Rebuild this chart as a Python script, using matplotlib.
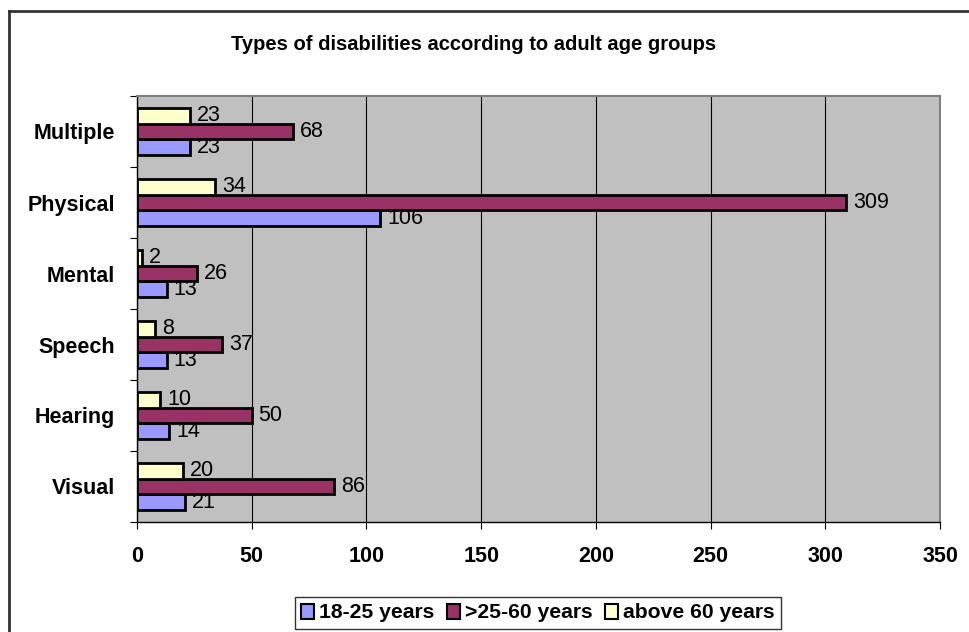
import matplotlib
matplotlib.use('Agg')
import matplotlib.pyplot as plt
from matplotlib.lines import Line2D
import numpy as np

categories = ['Visual', 'Hearing', 'Speech', 'Mental', 'Physical', 'Multiple']
series_names = ['18-25 years', '>25-60 years', 'above 60 years']
age_18_25 = [21, 14, 13, 13, 106, 23]
age_25_60 = [86, 50, 37, 26, 309, 68]
age_60_up = [20, 10, 8, 2, 34, 23]
colors = ['#9999FF', '#993366', '#FFFFCC']

plt.rcParams['font.family'] = ['Liberation Sans', 'DejaVu Sans']

fig = plt.figure(figsize=(9.7, 6.32), dpi=100)
ax = fig.add_axes([137 / 970, 1 - 522 / 632, (940 - 137) / 970, (522 - 96) / 632])
ax.set_facecolor('#C0C0C0')

y = np.arange(len(categories))
h = 0.225
for i, (vals, name) in enumerate(zip([age_18_25, age_25_60, age_60_up], series_names)):
    pos = y + (i - 1) * h
    ax.barh(pos, vals, height=h, color=colors[i], edgecolor='black', linewidth=2,
            label=name, zorder=3)
    for p, v in zip(pos, vals):
        ax.annotate(str(v), (v, p), xytext=(5, 0), textcoords='offset points',
                    va='center', ha='left', fontsize=15.5, zorder=4)

ax.set_xlim(0, 350)
ax.set_ylim(-0.5, len(categories) - 0.5)
ax.set_xticks(np.arange(0, 351, 50))
ax.set_yticks(np.arange(-0.5, len(categories), 1))
ax.set_yticklabels([])
ax.set_yticks(y, minor=True)
ax.set_yticklabels(categories, minor=True, fontsize=15.5, fontweight='bold')
ax.tick_params(axis='y', which='minor', length=0, pad=16)
ax.tick_params(axis='y', which='major', length=5, direction='out')
ax.tick_params(axis='x', length=5, direction='out', pad=12, labelsize=15.5)
for lab in ax.get_xticklabels():
    lab.set_fontweight('bold')
ax.grid(axis='x', color='black', linewidth=0.8, zorder=1)
for s in ['top', 'right']:
    ax.spines[s].set_color('#808080')
    ax.spines[s].set_linewidth(1.5)
for s in ['left', 'bottom']:
    ax.spines[s].set_color('black')
    ax.spines[s].set_linewidth(1)

fig.text(474 / 970, 1 - 45 / 632, 'Types of disabilities according to adult age groups',
         ha='center', va='center', fontsize=14.5, fontweight='bold')

leg = fig.legend(loc='center', bbox_to_anchor=(538 / 970, 1 - 613 / 632), ncol=3,
                 prop={'weight': 'bold', 'size': 15.2}, frameon=True,
                 fancybox=False, edgecolor='black', handlelength=0.6, handleheight=0.7,
                 handletextpad=0.25, columnspacing=0.6, borderpad=0.3, borderaxespad=0)
leg.get_frame().set_linewidth(1)
for hdl in leg.legend_handles:
    hdl.set_linewidth(1.5)

# partial outer border (top and left)
fig.add_artist(Line2D([9 / 970, 9 / 970], [0, 1 - 11 / 632], color='#333333',
                      linewidth=2, transform=fig.transFigure))
fig.add_artist(Line2D([9 / 970, 1], [1 - 11 / 632, 1 - 11 / 632], color='#333333',
                      linewidth=2, transform=fig.transFigure))

fig.savefig('out.png', dpi=100)
